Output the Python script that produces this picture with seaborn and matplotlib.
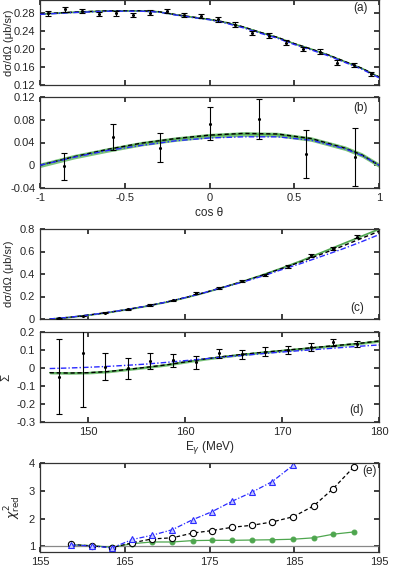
import numpy as np
import pandas as pd
import seaborn as sns
import matplotlib
matplotlib.use("Agg")
import matplotlib.pyplot as plt
from matplotlib.ticker import FuncFormatter

# ---- panel (a): dsigma/dOmega vs cos theta ----
cos_a = [-0.95, -0.85, -0.75, -0.65, -0.55, -0.45, -0.35, -0.25, -0.15, -0.05,
         0.05, 0.15, 0.25, 0.35, 0.45, 0.55, 0.65, 0.75, 0.85, 0.95]
xs_a = [0.279, 0.288, 0.284, 0.278, 0.279, 0.276, 0.281, 0.284, 0.276, 0.273,
        0.266, 0.254, 0.236, 0.230, 0.214, 0.200, 0.194, 0.170, 0.164, 0.144]
err_a = [0.005, 0.005, 0.005, 0.005, 0.005, 0.005, 0.005, 0.005, 0.005, 0.005,
         0.005, 0.005, 0.005, 0.005, 0.005, 0.005, 0.005, 0.005, 0.005, 0.005]
cos_curve_a = [-1.0, -0.8, -0.6, -0.4, -0.3, -0.2, -0.1, 0.0, 0.1, 0.2, 0.3,
               0.4, 0.5, 0.6, 0.7, 0.8, 0.9, 1.0]
green_a = [0.278, 0.282, 0.285, 0.285, 0.283, 0.2765, 0.271, 0.266, 0.259, 0.249,
           0.237, 0.226, 0.212, 0.200, 0.187, 0.172, 0.157, 0.138]
black_a = [0.278, 0.282, 0.285, 0.285, 0.283, 0.2765, 0.271, 0.266, 0.259, 0.249,
           0.237, 0.226, 0.212, 0.200, 0.187, 0.172, 0.157, 0.138]
blue_a = [0.277, 0.281, 0.284, 0.284, 0.282, 0.2755, 0.270, 0.265, 0.257, 0.247,
          0.235, 0.224, 0.210, 0.198, 0.185, 0.170, 0.155, 0.136]
band_a = 0.0015

# ---- panel (b): Sigma vs cos theta ----
cos_b = [-0.86, -0.57, -0.29, 0.0, 0.29, 0.57, 0.86]
sig_b = [-0.002, 0.050, 0.031, 0.073, 0.082, 0.020, 0.014]
err_b = [0.024, 0.023, 0.025, 0.029, 0.035, 0.042, 0.051]
cos_curve_b = [-1.0, -0.8, -0.6, -0.4, -0.2, 0.0, 0.2, 0.4, 0.6, 0.8, 0.9, 1.0]
green_b = [0.0, 0.015, 0.027, 0.038, 0.046, 0.052, 0.055, 0.054, 0.046, 0.030, 0.018, 0.0]
black_b = [0.0, 0.015, 0.028, 0.039, 0.047, 0.053, 0.056, 0.055, 0.047, 0.030, 0.018, 0.0]
blue_b = [0.0, 0.014, 0.026, 0.035, 0.043, 0.048, 0.050, 0.050, 0.044, 0.029, 0.017, 0.0]
band_b = 0.004

# ---- panel (c): dsigma/dOmega vs E_gamma ----
e_pts = [147.0, 149.4, 151.7, 154.1, 156.4, 158.7, 161.1, 163.5, 165.9, 168.2,
         170.6, 173.0, 175.3, 177.7]
xs_c = [0.006, 0.027, 0.056, 0.086, 0.124, 0.166, 0.228, 0.276, 0.335, 0.388,
        0.468, 0.566, 0.628, 0.731]
err_c = [0.004, 0.004, 0.005, 0.005, 0.006, 0.006, 0.008, 0.008, 0.009, 0.010,
         0.012, 0.016, 0.014, 0.012]
e_curve = [146, 148, 150, 152, 154, 156, 158, 160, 162, 164, 166, 168, 170, 172,
           174, 176, 178, 180]
green_c = [0.0, 0.015, 0.035, 0.058, 0.085, 0.115, 0.150, 0.190, 0.235, 0.285,
           0.337, 0.394, 0.455, 0.520, 0.590, 0.660, 0.730, 0.800]
black_c = [0.0, 0.015, 0.035, 0.058, 0.085, 0.115, 0.150, 0.190, 0.235, 0.285,
           0.335, 0.390, 0.450, 0.510, 0.575, 0.640, 0.710, 0.780]
blue_c = [0.0, 0.015, 0.035, 0.058, 0.085, 0.115, 0.150, 0.190, 0.235, 0.283,
          0.330, 0.382, 0.440, 0.495, 0.555, 0.615, 0.680, 0.750]
band_c = 0.005

# ---- panel (d): Sigma vs E_gamma ----
sig_d = [-0.048, 0.085, 0.007, -0.002, 0.041, 0.044, 0.031, 0.082, 0.076, 0.089,
         0.100, 0.118, 0.143, 0.132]
err_d = [0.21, 0.30, 0.074, 0.057, 0.045, 0.036, 0.035, 0.026, 0.025, 0.025,
         0.024, 0.022, 0.020, 0.018]
green_d = [-0.026, -0.028, -0.026, -0.020, -0.008, 0.004, 0.017, 0.034, 0.050, 0.064,
           0.076, 0.087, 0.097, 0.107, 0.117, 0.127, 0.137, 0.150]
black_d = [-0.026, -0.028, -0.026, -0.020, -0.008, 0.004, 0.017, 0.034, 0.050, 0.064,
           0.076, 0.087, 0.097, 0.107, 0.117, 0.127, 0.137, 0.150]
blue_d = [-0.003, 0.0, 0.004, 0.009, 0.015, 0.022, 0.031, 0.041, 0.051, 0.061,
          0.070, 0.080, 0.089, 0.097, 0.105, 0.113, 0.121, 0.128]
band_d = 0.007

# ---- panel (e): reduced chi^2 vs upper energy ----
e_chi = [158.7, 161.1, 163.5, 165.9, 168.2, 170.6, 173.0, 175.3, 177.7, 180.0,
         182.4, 184.9, 187.3, 189.6, 192.0]
chi_green = [1.06, 1.03, 0.97, 1.10, 1.16, 1.16, 1.21, 1.22, 1.22, 1.23,
             1.24, 1.26, 1.31, 1.44, 1.52]
chi_black = [1.07, 1.02, 0.96, 1.13, 1.27, 1.31, 1.48, 1.57, 1.69, 1.76,
             1.88, 2.07, 2.46, 3.08, 3.85]
chi_blue = [1.05, 1.02, 0.95, 1.25, 1.40, 1.60, 1.96, 2.25, 2.63, 2.95, 3.33, 3.93]

GREEN = "#4ea64e"
BAND = "#7cc47c"
BLUE = "#2a2aff"

sns.set_theme(style="ticks")
plt.rcParams["font.family"] = ["Liberation Sans", "DejaVu Sans"]
plt.rcParams.update({
    "xtick.direction": "in", "ytick.direction": "in",
    "xtick.top": True, "ytick.right": True,
    "xtick.major.size": 3.5, "ytick.major.size": 3.5,
    "xtick.labelsize": 8, "ytick.labelsize": 8,
    "axes.linewidth": 0.9, "axes.edgecolor": "#333333",
})

fig = plt.figure(figsize=(3.99, 5.70), dpi=100)
L, W = 40 / 399, 339 / 399


def px_axes(top, bottom):
    return fig.add_axes([L, 1 - bottom / 570, W, (bottom - top) / 570])


def fmt(nd=None):
    if nd is None:
        return FuncFormatter(lambda v, p: "%g" % (round(v, 6) + 0.0))
    return FuncFormatter(lambda v, p: "%.*f" % (nd, v))


def curves(ax, x, g, k, b, band):
    g = np.array(g)
    ax.fill_between(x, g - band, g + band, color=BAND, lw=0, zorder=1)
    sns.lineplot(x=x, y=g, ax=ax, color=GREEN, lw=1.0, sort=False, zorder=2)
    sns.lineplot(x=x, y=k, ax=ax, color="black", lw=1.0, linestyle=(0, (3, 2)),
                 sort=False, zorder=3)
    sns.lineplot(x=x, y=b, ax=ax, color=BLUE, lw=1.0, linestyle=(0, (4, 1.5, 1, 1.5)),
                 sort=False, zorder=3)


def points(ax, x, y, e):
    ax.errorbar(x, y, yerr=e, fmt="none", ecolor="black", elinewidth=0.8,
                capsize=2, capthick=0.8, zorder=5)
    sns.scatterplot(x=x, y=y, ax=ax, color="black", s=5, linewidth=0, zorder=6)


# (a)
ax = px_axes(-0.5, 85)
curves(ax, cos_curve_a, green_a, black_a, blue_a, band_a)
points(ax, cos_a, xs_a, err_a)
ax.set_xlim(-1, 1)
ax.set_ylim(0.12, 0.31)
ax.set_yticks([0.12, 0.16, 0.20, 0.24, 0.28])
ax.yaxis.set_major_formatter(fmt(2))
ax.set_xticks([-1, -0.5, 0, 0.5, 1])
ax.set_xticklabels([])
ax.set_ylabel("dσ/dΩ (μb/sr)", fontsize=8)
ax.yaxis.set_label_coords(-0.078, 0.5)
ax.text(0.944, 0.90, "(a)", transform=ax.transAxes, ha="center", va="center", fontsize=8.5)

# (b)
ax = px_axes(97, 188)
curves(ax, cos_curve_b, green_b, black_b, blue_b, band_b)
points(ax, cos_b, sig_b, err_b)
ax.set_xlim(-1, 1)
ax.set_ylim(-0.04, 0.12)
ax.set_yticks([-0.04, 0, 0.04, 0.08, 0.12])
ax.yaxis.set_major_formatter(fmt())
ax.set_xticks([-1, -0.5, 0, 0.5, 1])
ax.xaxis.set_major_formatter(fmt())
ax.set_xlabel("cos θ", fontsize=8.5)
ax.xaxis.set_label_coords(0.5, -0.21)
ax.text(0.944, 0.88, "(b)", transform=ax.transAxes, ha="center", va="center", fontsize=8.5)

# (c)
ax = px_axes(229, 319)
curves(ax, e_curve, green_c, black_c, blue_c, band_c)
points(ax, e_pts, xs_c, err_c)
ax.set_xlim(145, 180)
ax.set_ylim(0, 0.8)
ax.set_yticks([0, 0.2, 0.4, 0.6, 0.8])
ax.yaxis.set_major_formatter(fmt())
ax.set_xticks([150, 160, 170, 180])
ax.set_xticklabels([])
ax.set_ylabel("dσ/dΩ (μb/sr)", fontsize=8)
ax.yaxis.set_label_coords(-0.078, 0.5)
ax.text(0.935, 0.12, "(c)", transform=ax.transAxes, ha="center", va="center", fontsize=8.5)

# (d)
ax = px_axes(332, 422)
curves(ax, e_curve, green_d, black_d, blue_d, band_d)
points(ax, e_pts, sig_d, err_d)
ax.set_xlim(145, 180)
ax.set_ylim(-0.3, 0.2)
ax.set_yticks([-0.3, -0.2, -0.1, 0, 0.1, 0.2])
ax.yaxis.set_major_formatter(fmt())
ax.set_xticks([150, 160, 170, 180])
ax.xaxis.set_major_formatter(fmt())
ax.set_ylabel("Σ", fontsize=8.5)
ax.yaxis.set_label_coords(-0.082, 0.5)
ax.set_xlabel("E$_\\gamma$ (MeV)", fontsize=8.5)
ax.xaxis.set_label_coords(0.5, -0.19)
ax.text(0.935, 0.13, "(d)", transform=ax.transAxes, ha="center", va="center", fontsize=8.5)

# (e)
ax = px_axes(463, 552)
ax.axhline(1.0, color="#888888", lw=0.9, zorder=1)
sns.lineplot(x=e_chi, y=chi_green, ax=ax, color=GREEN, lw=0.9, marker="o",
             markersize=3.5, markerfacecolor=GREEN, markeredgecolor=GREEN, sort=False)
sns.lineplot(x=e_chi, y=chi_black, ax=ax, color="black", lw=0.9, linestyle=(0, (3, 2)),
             marker="o", markersize=4.5, markerfacecolor="white",
             markeredgecolor="black", markeredgewidth=0.8, sort=False)
sns.lineplot(x=e_chi[:len(chi_blue)], y=chi_blue, ax=ax, color=BLUE, lw=0.9,
             linestyle=(0, (4, 1.5, 1, 1.5)), marker="^", markersize=4.5,
             markerfacecolor="#c4c8ff", markeredgecolor=BLUE, markeredgewidth=0.8,
             sort=False)
ax.set_xlim(155, 195)
ax.set_ylim(0.8, 4)
ax.set_yticks([1, 2, 3, 4])
ax.set_xticks([155, 165, 175, 185, 195])
ax.xaxis.set_major_formatter(fmt())
ax.yaxis.set_major_formatter(fmt())
ax.set_ylabel("$\\chi^2_{\\rm red}$", fontsize=9)
ax.yaxis.set_label_coords(-0.05, 0.5)
ax.text(0.973, 0.91, "(e)", transform=ax.transAxes, ha="center", va="center", fontsize=8.5)

fig.savefig("out.png", dpi=100)
